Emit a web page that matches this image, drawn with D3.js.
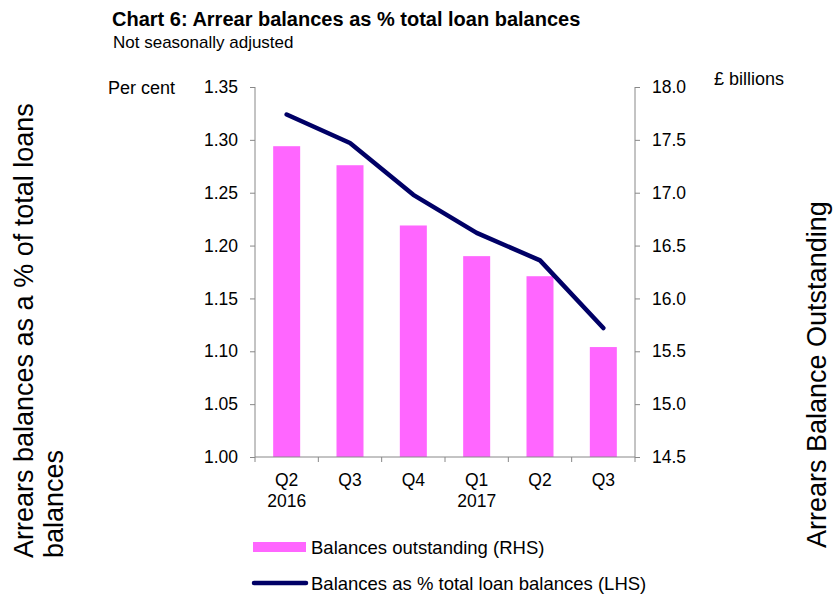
<!DOCTYPE html>
<html>
<head>
<meta charset="utf-8">
<script src="https://cdn.jsdelivr.net/npm/d3@7"></script>
<style>
  body { margin: 0; background: #fff; }
  svg { font-family: "Liberation Sans", Arial, sans-serif; display: block; }
  .axis path, .axis line { stroke: #888; }
  .axis text { fill: #000; font-size: 17.5px; }
</style>
</head>
<body>
<svg id="chart" width="833" height="594"></svg>
<script>
// Quarters on the x axis, with year shown under the first quarter of each year
const quarters = ["Q2", "Q3", "Q4", "Q1", "Q2", "Q3"];
const years = [{ index: 0, label: "2016" }, { index: 3, label: "2017" }];

// Arrears balances outstanding, £ billions (RHS, bars)
const balancesOutstanding = [17.44, 17.26, 16.69, 16.40, 16.21, 15.54];

// Arrears balances as % of total loan balances (LHS, line)
const balancesPct = [1.324, 1.297, 1.248, 1.212, 1.186, 1.122];

const leftTicks = [1.00, 1.05, 1.10, 1.15, 1.20, 1.25, 1.30, 1.35];
const rightTicks = [14.5, 15.0, 15.5, 16.0, 16.5, 17.0, 17.5, 18.0];

const svg = d3.select("#chart");
const margin = { top: 87, right: 198, bottom: 137, left: 255 };
const width = 833, height = 594;
const innerWidth = width - margin.left - margin.right;
const innerHeight = height - margin.top - margin.bottom;

const plot = svg.append("g").attr("transform", `translate(${margin.left},${margin.top})`);

const x = d3.scaleBand().domain(d3.range(quarters.length)).range([0, innerWidth]);
const barWidth = 27;
const yLeft = d3.scaleLinear().domain([1.0, 1.35]).range([innerHeight, 0]);
const yRight = d3.scaleLinear().domain([14.5, 18.0]).range([innerHeight, 0]);
const cx = i => x(i) + x.bandwidth() / 2;

// Bars (RHS)
plot.selectAll("rect.bar")
  .data(balancesOutstanding)
  .enter().append("rect")
  .attr("class", "bar")
  .attr("x", (d, i) => cx(i) - barWidth / 2)
  .attr("width", barWidth)
  .attr("y", d => yRight(d))
  .attr("height", d => innerHeight - yRight(d))
  .attr("fill", "#ff66ff");

// Left axis
plot.append("g").attr("class", "axis")
  .call(d3.axisLeft(yLeft).tickValues(leftTicks).tickFormat(d3.format(".2f")).tickSize(5).tickPadding(12))
  .call(g => g.select(".domain").attr("d", `M0,0V${innerHeight}`));

// Right axis
plot.append("g").attr("class", "axis")
  .attr("transform", `translate(${innerWidth},0)`)
  .call(d3.axisRight(yRight).tickValues(rightTicks).tickFormat(d3.format(".1f")).tickSize(5).tickPadding(12))
  .call(g => g.select(".domain").attr("d", `M0,0V${innerHeight}`));

// Bottom axis: ticks at category boundaries
const xAxis = plot.append("g").attr("class", "axis").attr("transform", `translate(0,${innerHeight})`);
xAxis.append("line").attr("x1", 0).attr("x2", innerWidth).attr("stroke", "#888");
xAxis.selectAll("line.tick")
  .data(d3.range(quarters.length + 1))
  .enter().append("line")
  .attr("class", "tick")
  .attr("x1", i => i * x.step()).attr("x2", i => i * x.step())
  .attr("y1", 0).attr("y2", 5)
  .attr("stroke", "#888");
xAxis.selectAll("text.q")
  .data(quarters)
  .enter().append("text")
  .attr("class", "q")
  .attr("x", (d, i) => cx(i))
  .attr("y", 29)
  .attr("text-anchor", "middle")
  .text(d => d);
xAxis.selectAll("text.yr")
  .data(years)
  .enter().append("text")
  .attr("class", "yr")
  .attr("x", d => cx(d.index))
  .attr("y", 50)
  .attr("text-anchor", "middle")
  .text(d => d.label);

// Line (LHS)
const line = d3.line()
  .x((d, i) => cx(i))
  .y(d => yLeft(d));
plot.append("path")
  .datum(balancesPct)
  .attr("d", line)
  .attr("fill", "none")
  .attr("stroke", "#000066")
  .attr("stroke-width", 4.5)
  .attr("stroke-linecap", "round")
  .attr("stroke-linejoin", "round");

// Titles
svg.append("text").attr("x", 112).attr("y", 26)
  .attr("font-size", 20).attr("font-weight", "bold")
  .text("Chart 6: Arrear balances as % total loan balances");
svg.append("text").attr("x", 113).attr("y", 48)
  .attr("font-size", 17)
  .text("Not seasonally adjusted");
svg.append("text").attr("x", 108).attr("y", 94)
  .attr("font-size", 18).text("Per cent");
svg.append("text").attr("x", 714).attr("y", 85)
  .attr("font-size", 18).text("£ billions");

// Rotated axis titles
const leftTitle = svg.append("text")
  .attr("transform", "translate(33,558) rotate(-90)")
  .attr("font-size", 27);
leftTitle.append("tspan").attr("x", 0).attr("y", 0).text("Arrears balances as a % of total loans");
leftTitle.append("tspan").attr("x", 0).attr("y", 30).text("balances");

svg.append("text")
  .attr("transform", "translate(826,548) rotate(-90)")
  .attr("font-size", 27)
  .text("Arrears Balance Outstanding");

// Legend
const legend = svg.append("g");
legend.append("rect").attr("x", 253).attr("y", 542).attr("width", 53).attr("height", 10).attr("fill", "#ff66ff");
legend.append("text").attr("x", 311).attr("y", 554).attr("font-size", 18.5).text("Balances outstanding (RHS)");
legend.append("line").attr("x1", 254).attr("x2", 306).attr("y1", 583).attr("y2", 583)
  .attr("stroke", "#000066").attr("stroke-width", 4.5).attr("stroke-linecap", "round");
legend.append("text").attr("x", 311).attr("y", 590).attr("font-size", 18.5).text("Balances as % total loan balances (LHS)");
</script>
</body>
</html>
